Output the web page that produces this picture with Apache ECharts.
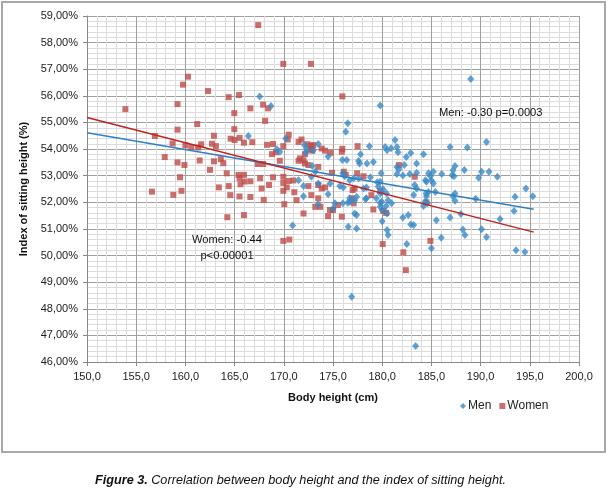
<!DOCTYPE html>
<html>
<head>
<meta charset="utf-8">
<script src="https://cdn.jsdelivr.net/npm/echarts@6/dist/echarts.min.js"></script>
<style>
html,body{margin:0;padding:0;background:#fff;}
#c{width:609px;height:497px;}
</style>
</head>
<body>
<div id="c"></div>
<script>
var xTicks = {min: 150, max: 200, interval: 5};
var yTicks = {min: 46, max: 59, interval: 1};

var men = [
[166.4,54.49],[167.55,55.98],[168.7,55.62],[169.3,53.99],[169.6,53.9],[170.2,54.4],[170.9,51.13],
[171.5,52.83],[172.0,52.61],[172.0,52.23],[172.1,54.15],[172.3,53.99],[172.26,53.86],[172.8,52.96],
[172.9,53.36],[173.0,53.96],[173.2,53.15],[173.5,54.19],[173.5,52.71],[173.5,51.93],[174.5,53.72],
[174.5,52.3],[174.7,52.71],[175.0,51.77],[175.2,51.96],[175.7,52.61],[175.95,53.59],[176.0,53.09],
[176.0,51.96],[176.05,52.56],[176.2,52.98],[176.3,54.65],[176.4,53.59],[176.5,54.97],[176.5,51.98],
[176.55,51.08],[176.7,52.83],[176.7,52.15],[176.7,52.02],[176.9,48.45],[177.1,52.9],[177.2,52.08],
[177.2,51.58],[177.4,52.21],[177.4,51.52],[177.4,51.02],[177.6,52.9],[177.6,53.55],[177.7,53.46],
[177.8,53.81],[178.1,52.52],[178.3,52.12],[178.4,52.56],[178.4,52.15],[178.45,53.46],[178.7,54.11],
[178.8,52.94],[179.1,53.51],[179.4,52.15],[179.5,52.75],[179.6,52.58],[179.8,55.64],[179.8,52.77],
[179.8,52.33],[179.8,51.98],[179.8,51.83],[179.9,53.09],[179.95,52.39],[179.95,52.02],[180.0,51.71],
[180.0,51.29],[180.1,52.49],[180.3,54.08],[180.4,51.86],[180.45,52.33],[180.5,53.96],[180.5,51.58],
[180.5,50.96],[180.6,52.08],[180.6,50.77],[180.9,54.03],[180.95,51.96],[181.3,54.34],[181.5,54.08],
[181.5,53.33],[181.5,53.06],[181.6,53.88],[181.7,53.24],[182.1,53.01],[182.1,51.43],[182.25,53.4],
[182.45,53.7],[182.5,50.43],[182.65,51.52],[182.8,53.06],[182.9,53.85],[182.9,51.17],[183.2,51.15],
[183.2,52.27],[183.3,52.65],[183.4,46.6],[183.5,53.46],[183.5,53.11],[183.5,52.52],[184.2,53.81],
[184.2,51.86],[184.35,52.02],[184.4,52.83],[184.45,52.33],[184.5,52.77],[184.5,52.23],[184.6,51.96],
[184.7,53.09],[184.7,52.39],[184.9,52.98],[185.0,52.83],[185.2,52.71],[185.2,53.15],[185.0,50.27],
[185.4,52.39],[185.5,51.33],[186.0,50.67],[186.05,53.06],[186.9,54.08],[186.9,51.43],[187.1,53.02],
[187.2,53.2],[187.2,52.23],[187.3,52.98],[187.4,53.36],[187.4,52.33],[187.4,52.06],[188.0,51.56],
[188.2,50.98],[188.35,53.21],[188.4,50.77],[188.65,54.06],[189.0,56.63],[189.5,52.13],[189.8,52.92],
[190.1,53.15],[190.1,50.99],[190.6,54.27],[190.6,50.7],[190.85,53.15],[191.7,52.96],[191.97,51.37],
[193.4,51.67],[193.5,52.21],[193.6,50.2],[194.5,50.13],[194.6,52.52],[195.3,52.23]
];

var women = [
[153.9,55.5],[156.6,52.4],[156.9,54.49],[157.9,53.7],[158.7,54.21],[158.77,52.28],[159.2,55.69],
[159.2,54.73],[159.2,53.5],[159.45,52.94],[159.6,52.43],[159.76,56.42],[159.9,53.4],[160.0,54.14],
[160.26,56.72],[160.6,54.08],[161.2,54.94],[161.3,54.06],[161.45,53.57],[161.6,54.18],[162.3,56.18],
[162.5,53.22],[162.7,54.2],[162.9,54.5],[162.9,53.54],[163.1,54.11],[163.4,52.56],[163.6,53.62],
[163.85,53.47],[164.2,53.09],[164.26,51.44],[164.4,55.95],[164.4,52.61],[164.56,52.27],[164.6,54.39],
[164.97,55.35],[164.97,54.75],[165.0,54.34],[165.45,56.03],[165.4,53.03],[165.5,54.42],[165.5,52.91],
[165.5,52.22],[165.6,52.68],[165.95,54.24],[165.95,53.03],[165.95,51.52],[166.0,52.78],[166.6,55.53],
[166.6,52.79],[166.6,52.2],[166.8,54.26],[167.35,53.44],[167.4,58.66],[167.6,52.91],[167.75,52.52],
[167.9,55.67],[167.9,53.44],[167.96,52.09],[168.1,55.06],[168.3,54.16],[168.4,55.53],[168.5,52.65],
[168.8,53.81],[168.9,54.19],[168.9,52.94],[169.2,53.88],[169.6,53.56],[169.95,57.2],[169.95,54.11],
[169.95,52.96],[169.95,52.73],[169.95,52.43],[169.95,50.55],[170.05,51.93],[170.3,52.56],[170.4,54.36],
[170.5,54.54],[170.5,52.8],[170.56,50.6],[170.97,52.82],[171.07,52.38],[171.3,52.08],[171.5,54.27],
[171.5,53.56],[171.8,54.36],[171.65,53.65],[172.0,53.58],[172.15,53.81],[172.15,53.46],[172.4,54.18],
[172.5,53.4],[172.5,52.61],[172.7,53.99],[172.76,57.2],[172.8,54.12],[172.8,52.27],[172.9,53.94],
[173.0,54.15],[173.5,53.33],[173.5,52.65],[173.5,52.15],[173.2,51.83],[173.7,51.83],[172.0,51.58],
[173.85,54.02],[173.85,52.52],[174.2,53.94],[174.2,52.56],[174.5,51.48],[174.7,51.71],[174.75,53.86],
[174.9,53.11],[175.0,51.71],[175.5,51.9],[175.9,53.9],[175.9,51.46],[175.95,55.98],[175.95,54.01],
[176.1,53.15],[176.3,53.03],[176.9,52.15],[177.0,52.46],[177.1,51.96],[177.2,52.52],[177.45,53.09],
[177.5,54.11],[178.1,52.98],[178.9,52.27],[179.1,51.73],[179.8,52.43],[180.05,50.43],[180.1,51.68],
[180.4,51.6],[181.7,53.4],[182.15,50.12],[182.4,49.45],[183.3,52.96],[184.5,52.0],[184.9,50.55]
];

var menTrend = [[150,54.61],[195.4,51.74]];
var womenTrend = [[150,55.19],[195.4,50.88]];

var menColor = '#3a8ac6';
var womenColor = '#be4b48';
var font = "'Liberation Sans', Arial, sans-serif";

var chart = echarts.init(document.getElementById('c'), null, {renderer: 'canvas'});
chart.setOption({
  animation: false,
  backgroundColor: '#fff',
  grid: {left: 87, right: 30, top: 16, bottom: 135, containLabel: false},
  xAxis: {
    type: 'value', min: xTicks.min, max: xTicks.max, interval: xTicks.interval,
    name: 'Body height (cm)', nameLocation: 'middle', nameGap: 30,
    nameTextStyle: {fontFamily: font, fontSize: 11, fontWeight: 'bold', color: '#111'},
    axisLine: {show: true, lineStyle: {color: '#888', width: 1}},
    axisTick: {show: true, length: 4, lineStyle: {color: '#888'}},
    axisLabel: {fontFamily: font, fontSize: 11, color: '#222', margin: 9,
      formatter: function (v) { return v.toFixed(1).replace('.', ','); }},
    splitLine: {show: true, lineStyle: {color: '#a0a0a0', width: 1}},
    minorTick: {show: false, splitNumber: 5},
    minorSplitLine: {show: true, lineStyle: {color: '#dcdcdc', width: 1}}
  },
  yAxis: {
    type: 'value', min: yTicks.min, max: yTicks.max, interval: yTicks.interval,
    name: 'Index of sitting height (%)', nameLocation: 'middle', nameGap: 52,
    nameTextStyle: {fontFamily: font, fontSize: 11, fontWeight: 'bold', color: '#111'},
    axisLine: {show: true, lineStyle: {color: '#888', width: 1}},
    axisTick: {show: true, length: 4, lineStyle: {color: '#888'}},
    axisLabel: {fontFamily: font, fontSize: 11, color: '#222', margin: 9,
      formatter: function (v) { return v.toFixed(2).replace('.', ',') + '%'; }},
    splitLine: {show: true, lineStyle: {color: '#a0a0a0', width: 1}},
    minorTick: {show: false, splitNumber: 5},
    minorSplitLine: {show: true, lineStyle: {color: '#dcdcdc', width: 1}}
  },
  legend: {
    left: 455, top: 395, itemWidth: 6, itemHeight: 6, itemGap: 8,
    textStyle: {fontFamily: font, fontSize: 12, color: '#222', padding: [0, 0, 0, -3]},
    data: [{name: 'Men', icon: 'diamond'}, {name: 'Women', icon: 'rect'}]
  },
  series: [
    {name: 'Men', type: 'scatter', data: men, symbol: 'diamond', symbolSize: [7, 8],
      itemStyle: {color: menColor}, z: 3},
    {name: 'Women', type: 'scatter', data: women, symbol: 'rect', symbolSize: 6,
      itemStyle: {color: womenColor}, z: 2},
    {name: 'MenTrend', type: 'line', data: menTrend, symbol: 'none',
      lineStyle: {color: '#2f80c4', width: 1.5}, z: 4, silent: true},
    {name: 'WomenTrend', type: 'line', data: womenTrend, symbol: 'none',
      lineStyle: {color: '#c0201e', width: 1.5}, z: 4, silent: true}
  ],
  graphic: [
    {type: 'rect', shape: {x: 2, y: 2, width: 603, height: 450},
      style: {fill: 'none', stroke: '#a8a8a8', lineWidth: 2}, z: -1, silent: true},
    {type: 'text', left: 439, top: 107, z: 10,
      style: {text: 'Men: -0.30 p=0.0003', font: '11.2px ' + font, fill: '#111'}},
    {type: 'text', x: 227, y: 232, z: 10,
      style: {text: 'Women: -0.44\np<0.00001', font: '11.2px ' + font, fill: '#111',
        textAlign: 'center', lineHeight: 16}},
    {type: 'text', x: 95, y: 474, z: 10,
      style: {text: '{b|Figure 3.} {i|Correlation between body height and the index of sitting height.}',
        rich: {
          b: {fontFamily: font, fontSize: 12.7, fontWeight: 'bold', fontStyle: 'italic', fill: '#111'},
          i: {fontFamily: font, fontSize: 12.7, fontStyle: 'italic', fill: '#111'}
        }}}
  ]
});
</script>
</body>
</html>
